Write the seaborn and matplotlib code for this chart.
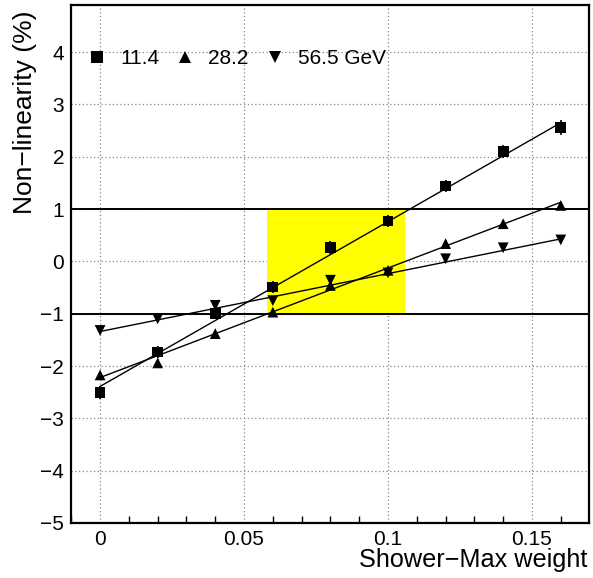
import numpy as np
import pandas as pd
import matplotlib
matplotlib.use("Agg")
import matplotlib.pyplot as plt
import seaborn as sns
from matplotlib.ticker import MultipleLocator

# ---- data ----
weights = [0.0, 0.02, 0.04, 0.06, 0.08, 0.10, 0.12, 0.14, 0.16]
nl_11 = [-2.51, -1.73, -0.99, -0.49, 0.27, 0.77, 1.44, 2.10, 2.56]
nl_28 = [-2.17, -1.94, -1.38, -0.97, -0.46, -0.17, 0.34, 0.72, 1.07]
nl_56 = [-1.32, -1.10, -0.84, -0.75, -0.36, -0.22, 0.05, 0.26, 0.41]
err_11 = [0.12, 0.12, 0.12, 0.12, 0.12, 0.12, 0.12, 0.12, 0.15]
err_28 = [0.06, 0.08, 0.06, 0.06, 0.06, 0.06, 0.06, 0.06, 0.06]
err_56 = [0.05, 0.05, 0.08, 0.05, 0.05, 0.05, 0.05, 0.05, 0.05]
# linear fit lines, value at x=0 and at x=0.16
fit_x = [0.0, 0.16]
fit_11 = [-2.39, 2.65]
fit_28 = [-2.22, 1.13]
fit_56 = [-1.34, 0.43]
labels = ["11.4", "28.2", "56.5 GeV"]
markers = ["s", "^", "v"]
band_x = [0.058, 0.106]
band_y = [-1.0, 1.0]
xticks = [0, 0.05, 0.1, 0.15]
xticklabels = ["0", "0.05", "0.1", "0.15"]
yticks = [-5, -4, -3, -2, -1, 0, 1, 2, 3, 4]

sns.set_theme(style="white")
plt.rcParams["font.family"] = ["Liberation Sans", "DejaVu Sans"]
plt.rcParams["text.color"] = "black"
plt.rcParams["axes.labelcolor"] = "black"
plt.rcParams["xtick.color"] = "black"
plt.rcParams["ytick.color"] = "black"

pts = pd.concat([
    pd.DataFrame({"w": weights, "nl": nl_11, "err": err_11, "E": labels[0]}),
    pd.DataFrame({"w": weights, "nl": nl_28, "err": err_28, "E": labels[1]}),
    pd.DataFrame({"w": weights, "nl": nl_56, "err": err_56, "E": labels[2]}),
])
fits = pd.concat([
    pd.DataFrame({"w": fit_x, "nl": fit_11, "E": labels[0]}),
    pd.DataFrame({"w": fit_x, "nl": fit_28, "E": labels[1]}),
    pd.DataFrame({"w": fit_x, "nl": fit_56, "E": labels[2]}),
])

fig = plt.figure(figsize=(5.93, 5.78), dpi=100)
ax = fig.add_axes([71/593, 1 - 523/578, (589 - 71)/593, (523 - 5)/578])

ax.set_xlim(-0.0101, 0.1698)
ax.set_ylim(-5, 4.9)

# grid
ax.grid(True, which="major", linestyle=(0, (1, 2)), color="#888888", linewidth=0.9)
ax.set_axisbelow(True)

# yellow band
ax.fill_between(band_x, band_y[0], band_y[1], color="#ffff00", zorder=1, linewidth=0)
for yv in band_y:
    ax.axhline(yv, color="black", linewidth=1.4, zorder=2)

# fit lines
sns.lineplot(data=fits, x="w", y="nl", units="E", estimator=None, color="black",
             linewidth=1.0, ax=ax, legend=False, zorder=3)

# error bars
for lab in labels:
    d = pts[pts["E"] == lab]
    ax.errorbar(d["w"], d["nl"], yerr=d["err"], fmt="none", ecolor="black",
                elinewidth=1.2, capsize=0, zorder=4)

# markers
sns.scatterplot(data=pts, x="w", y="nl", style="E", markers=dict(zip(labels, markers)),
                color="black", s=60, edgecolor="black", linewidth=0, ax=ax, zorder=5,
                legend=True)

leg = ax.legend(loc="center left", bbox_to_anchor=(16/518, 1 - 54/518), ncol=3,
                frameon=False, fontsize=15, handlelength=1.0, handletextpad=0.6,
                columnspacing=0.75, borderaxespad=0, borderpad=0, title=None,
                markerscale=1.1)

ax.set_xticks(xticks)
ax.set_xticklabels(xticklabels)
ax.set_yticks(yticks)
ax.xaxis.set_minor_locator(MultipleLocator(0.01))
ax.tick_params(axis="both", which="major", direction="in", length=10, width=1.2,
               labelsize=15, color="black", labelcolor="black")
ax.tick_params(axis="x", which="major", pad=5)
ax.tick_params(axis="y", which="major", pad=5)
ax.tick_params(axis="x", which="minor", direction="in", length=5, width=1.0, bottom=True)
ax.tick_params(top=False, right=False)

for s in ax.spines.values():
    s.set_color("black")
    s.set_linewidth(1.6)

ax.set_xlabel("")
ax.set_ylabel("")
fig.text(587/593, 1 - 567/578, "Shower\u2212Max weight", ha="right", va="baseline",
         fontsize=18.2)
fig.text(25/593, 1 - 10/578, "Non\u2212linearity (%)", ha="center", va="top",
         rotation=90, fontsize=19)

fig.savefig("out.png", dpi=100)
